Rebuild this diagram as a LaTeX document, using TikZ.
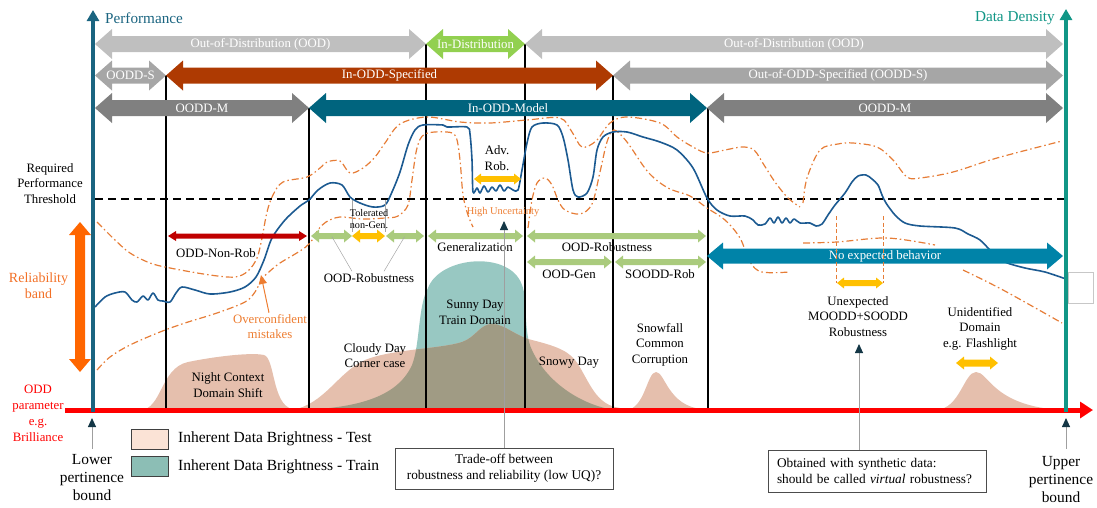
\documentclass[tikz,border=0pt]{standalone}
\usepackage{fontspec}
\setmainfont{Liberation Serif}
\usetikzlibrary{arrows.meta}

\definecolor{perfblue}{RGB}{26,100,128}
\definecolor{densteal}{RGB}{17,150,134}
\definecolor{oodgray}{RGB}{191,191,191}
\definecolor{oddsgray}{RGB}{166,166,166}
\definecolor{oddmgray}{RGB}{128,128,128}
\definecolor{rust}{RGB}{174,58,2}
\definecolor{modelteal}{RGB}{0,100,126}
\definecolor{indist}{RGB}{146,208,80}
\definecolor{noexp}{RGB}{0,131,168}
\definecolor{softgreen}{RGB}{170,203,125}
\definecolor{amber}{RGB}{255,192,0}
\definecolor{darkred}{RGB}{192,0,0}
\definecolor{relorange}{RGB}{255,102,0}
\definecolor{reltext}{RGB}{242,112,38}
\definecolor{txtorange}{RGB}{237,125,49}
\definecolor{curveblue}{RGB}{28,90,145}
\definecolor{bandorange}{RGB}{230,125,55}
\definecolor{axisred}{RGB}{255,0,0}
\definecolor{peach}{RGB}{229,191,173}
\definecolor{peachlight}{RGB}{251,227,214}
\definecolor{trainteal}{RGB}{152,200,194}
\definecolor{trainbox}{RGB}{140,190,181}
\definecolor{overlap}{RGB}{160,155,132}
\definecolor{pointer}{RGB}{20,55,70}

% double-headed band arrow: name, x1, x2, y, body half-height, head half-height, head length, fill, label
\newcommand\bandarrow[9]{%
  \fill[#8] (#2,#4) -- ({#2+#7},{#4-#6}) -- ({#2+#7},{#4-#5}) -- ({#3-#7},{#4-#5})
    -- ({#3-#7},{#4-#6}) -- (#3,#4) -- ({#3-#7},{#4+#6}) -- ({#3-#7},{#4+#5})
    -- ({#2+#7},{#4+#5}) -- ({#2+#7},{#4+#6}) -- cycle;
  \node[bandtext] (#1) at ({(#2+#3)/2},#4) {#9};}

\tikzset{
  bandtext/.style={inner sep=0pt, text=white, font=\fontsize{12.8}{15}\selectfont},
  lbl/.style={inner sep=0pt, align=center, font=\fontsize{12.8}{15.5}\selectfont},
  biglbl/.style={inner sep=0pt, align=center, font=\fontsize{15.4}{18}\selectfont},
  smalllbl/.style={inner sep=0pt, align=center, font=\fontsize{10.2}{12}\selectfont},
  divider/.style={line width=1.5pt, black},
  perfcurve/.style={line width=1.6pt, curveblue, line join=round},
  relbound/.style={line width=1.2pt, bandorange, dash pattern=on 7pt off 3pt on 1.5pt off 3pt},
  thinlink/.style={line width=0.5pt, gray!70},
  pointerline/.style={line width=0.9pt, gray!75, -{Triangle[length=9pt,width=8pt,color=pointer]}},
  legbox/.style={draw=black!75, line width=0.8pt, minimum width=37pt, minimum height=20pt, inner sep=0pt},
  legtext/.style={anchor=west, inner sep=0pt, font=\fontsize{15.5}{18}\selectfont},
  notebox/.style={draw=black!70, line width=0.8pt, minimum width=218pt, inner sep=0pt, font=\fontsize{13.3}{16}\selectfont}
}

\begin{document}
\begin{tikzpicture}[x=1pt,y=-1pt]
\useasboundingbox (0,0) rectangle (1097,507);

% ---------- data distributions ----------
\def\trainpath{(300,410) .. controls (360,408) and (398,396) .. (412,365)
  .. controls (420,345) and (418,305) .. (428,288)
  .. controls (440,256) and (510,250) .. (522,285)
  .. controls (528,300) and (523,332) .. (532,350)
  .. controls (548,385) and (585,406) .. (615,410) -- cycle}
\def\testpath{(292,410) .. controls (325,404) and (338,372) .. (365,360)
  .. controls (392,349) and (440,349) .. (462,342)
  .. controls (476,337) and (480,324) .. (492,324)
  .. controls (505,324) and (515,336) .. (532,340)
  .. controls (560,347) and (570,352) .. (578,364)
  .. controls (590,384) and (596,402) .. (615,407)
  .. controls (628,410) and (640,410) .. (652,410) -- cycle}
\fill[trainteal] \trainpath;
\fill[peach] \testpath;
\begin{scope}
  \clip \trainpath;
  \fill[overlap] \testpath;
\end{scope}
% night, snowfall and flashlight domains
\fill[peach] (140,410) .. controls (162,410) and (160,368) .. (188,362)
  .. controls (212,357) and (250,352) .. (264,355)
  .. controls (275,358) and (272,404) .. (292,409) -- cycle;
\fill[peach] (626,410) .. controls (645,409) and (647,372) .. (656,372)
  .. controls (665,372) and (668,406) .. (702,409) -- cycle;
\fill[peach] (936,410) .. controls (960,409) and (964,372) .. (976,372)
  .. controls (988,372) and (992,402) .. (1050,409) -- cycle;

% ---------- domain separators ----------
\draw[divider] (166,75) -- (166,410);
\draw[divider] (309,108) -- (309,410);
\draw[divider] (426,44) -- (426,410);
\draw[divider] (525,44) -- (525,410);
\draw[divider] (613,75) -- (613,410);
\draw[divider] (708,108) -- (708,412);

% ---------- threshold ----------
\draw[line width=1.8pt, dash pattern=on 8pt off 5pt] (95,199) -- (1064,199);

% ---------- reliability bounds ----------
\draw[relbound] plot[smooth, tension=0.55] coordinates {
  (97,222) (115,240) (130,253) (150,263) (170,268) (210,275) (235,277) (248,271)
  (257,258) (262,238) (267,212) (273,195) (283,182) (307,177) (320,168) (327,162)
  (340,161) (350,173) (363,168) (375,157) (385,143) (400,124) (427,117) (460,122)
  (490,123) (527,120) (560,118) (572,132) (582,147) (596,141) (610,123) (627,117)
  (660,123) (677,137) (693,147) (707,153) (725,150) (742,147) (754,150) (764,165)
  (775,182) (788,198) (800,207)};
\draw[relbound] plot[smooth, tension=0.55] coordinates {
  (803,203) (807,178) (820,150) (838,144) (853,143) (877,147) (893,160) (907,177)
  (920,178) (953,172) (997,158) (1062,141)};
\draw[relbound] plot[smooth, tension=0.55] coordinates {
  (97,370) (110,357) (130,345) (160,332) (185,323) (217,313) (245,302) (255,292)
  (262,279) (270,271) (280,263) (300,251) (310,243) (318,230) (326,222) (340,217)
  (362,219) (385,218) (398,216) (408,205) (412,180) (417,148) (425,134) (447,132)
  (456,137) (460,160) (463,195) (468,215) (473,227)};
\draw[relbound] plot[smooth, tension=0.55] coordinates {
  (528,228) (532,200) (537,183) (545,178) (552,185) (558,200) (565,210) (580,214)
  (592,204) (600,172) (607,142) (614,130) (627,142) (648,172) (668,188) (690,196)
  (707,208) (725,220) (740,238) (750,262) (762,272) (790,272)};
\draw[relbound] plot[smooth, tension=0.55] coordinates {
  (803,243) (837,242) (887,238) (935,245)};
\draw[relbound] plot[smooth, tension=0.55] coordinates {
  (963,270) (1003,290) (1062,323)};

% ---------- performance curve ----------
\draw[perfcurve] plot[smooth, tension=0.5] coordinates {
  (95,307) (105,297) (115,293) (125,292) (132,300) (137,302) (143,296) (148,300)
  (153,293) (158,300) (163,301) (170,302) (176,293) (182,287) (195,290) (210,294)
  (230,292) (245,287) (256,277) (264,260) (272,238) (285,220) (300,206) (309,200)
  (318,190) (330,183) (342,185) (350,197) (360,203) (373,207) (385,205) (392,192)
  (400,172) (408,145) (415,130) (423,125) (443,125) (447,127) (467,127) (470,134)
  (472,160) (473,192) (477,188) (480,193) (484,186) (488,192) (492,187) (496,191)
  (500,185) (504,191) (508,187) (513,190) (518,190) (522,170) (527,143) (532,127)
  (543,123) (557,125) (563,137) (568,160) (573,190) (578,197) (587,193) (593,177)
  (597,150) (603,137) (613,132) (627,132) (643,137) (660,142) (677,150) (693,168)
  (707,198) (717,210) (730,216) (745,216) (753,220) (758,225) (765,224) (770,218)
  (774,223) (778,217) (782,223) (786,218) (790,223) (794,219) (800,223) (810,223)
  (816,226) (822,224) (828,215) (835,205) (845,193) (852,182) (858,176) (866,175)
  (872,179) (878,185) (882,195) (886,203) (895,215) (905,223) (920,226) (955,228)
  (968,234) (980,240) (992,252) (1005,262) (1025,268) (1045,272) (1066,279)};

% ---------- region bands ----------
\bandarrow{oodL}{95}{426}{44}{8}{15}{17}{oodgray}{Out-of-Distribution (OOD)}
\bandarrow{indist}{426}{525}{44}{8}{15}{17}{indist}{In-Distribution}
\bandarrow{oodR}{525}{1063}{44}{8}{15}{17}{oodgray}{Out-of-Distribution (OOD)}
\bandarrow{oddsL}{95}{166}{75.5}{8}{15}{17}{oddsgray}{OODD-S}
\bandarrow{inodds}{166}{613}{75.5}{8}{15}{17}{rust}{In-ODD-Specified}
\bandarrow{oddsR}{613}{1063}{75.5}{8}{15}{17}{oddsgray}{Out-of-ODD-Specified (OODD-S)}
\bandarrow{oddmL}{95}{309}{108}{8}{15}{17}{oddmgray}{OODD-M}
\bandarrow{inoddm}{309}{707}{108}{8}{15}{17}{modelteal}{In-ODD-Model}
\bandarrow{oddmR}{707}{1063}{108}{8}{15}{17}{oddmgray}{OODD-M}
\bandarrow{noexp}{707}{1063}{256}{7.5}{13.5}{16}{noexp}{No expected behavior}

% ---------- small behaviour arrows ----------
\bandarrow{nonrob}{168}{307}{236}{2.5}{5}{8}{darkred}{}
\bandarrow{oodrobA}{311}{352}{236}{3}{6.5}{8}{softgreen}{}
\bandarrow{tolerated}{352}{385}{236}{3}{6.5}{8}{amber}{}
\bandarrow{oodrobB}{386}{424}{236}{3}{6.5}{8}{softgreen}{}
\bandarrow{generalization}{428}{523}{236}{3}{6.5}{8}{softgreen}{}
\bandarrow{oodrobC}{527}{706}{236}{3}{6.5}{8}{softgreen}{}
\bandarrow{oodgen}{527}{612}{262}{3}{6.5}{8}{softgreen}{}
\bandarrow{sooddrob}{615}{706}{262}{3}{6.5}{8}{softgreen}{}
\bandarrow{advrob}{474}{521}{179}{2.8}{5.5}{7}{amber}{}
\bandarrow{unexpected}{837}{883}{283}{3}{5.5}{7}{amber}{}
\bandarrow{flashlight}{956}{998}{363}{3.5}{6.5}{8}{amber}{}

% tolerated range markers
\draw[thinlink] (352,200) -- (352,232);
\draw[thinlink] (385,200) -- (385,232);
% unexpected robustness range
\draw[line width=1pt, bandorange, dash pattern=on 4pt off 2.5pt] (836.5,216) -- (836.5,283);
\draw[line width=1pt, bandorange, dash pattern=on 4pt off 2.5pt] (883.5,216) -- (883.5,283);

% ---------- axes ----------
\draw[line width=5pt, axisred, -{Triangle[length=13pt,width=16pt]}] (65,410) -- (1093,410);
\draw[line width=4pt, perfblue, -{Triangle[length=11pt,width=12pt]}] (93,412) -- (93,10);
\draw[line width=4pt, densteal, -{Triangle[length=11pt,width=12pt]}] (1066,412) -- (1066,9);
\node[draw=black!22, line width=0.8pt, fill=white, minimum width=25pt, minimum height=31pt, inner sep=0pt] (sidebox) at (1080.5,287.5) {};

% reliability band arrow
\fill[relorange] (80,222) -- (91,235) -- (85,235) -- (85,359) -- (91,359) -- (80,372)
  -- (69,359) -- (75,359) -- (75,235) -- (69,235) -- cycle;

% ---------- labels ----------
\node[anchor=west, inner sep=0pt, text=perfblue, font=\fontsize{15.2}{18}\selectfont] (perf) at (105,18) {Performance};
\node[anchor=east, inner sep=0pt, text=densteal, font=\fontsize{15.2}{18}\selectfont] (dens) at (1055,18) {Data Density};
\node[lbl] (threshold) at (50,183.5) {Required\\Performance\\Threshold};
\node[inner sep=0pt, align=center, text=reltext, font=\fontsize{14}{16}\selectfont] (relband) at (38.5,286) {Reliability\\band};
\node[inner sep=0pt, align=center, text=axisred, font=\fontsize{12.8}{16}\selectfont] (oddparam) at (38,413) {ODD\\parameter\\e.g.\\Brilliance};

\node[lbl] (advlbl) at (497,158) {Adv.\\Rob.};
\node[inner sep=0pt, text=txtorange, font=\fontsize{10.4}{12}\selectfont] (highunc) at (503,212) {High Uncertainty};
\node[smalllbl] (tollbl) at (369,219) {Tolerated\\non-Gen.};
\node[lbl] (nonroblbl) at (216,253) {ODD-Non-Rob};
\node[lbl] (oodroblblA) at (369,278) {OOD-Robustness};
\node[lbl] (genlbl) at (475,247) {Generalization};
\node[lbl] (oodroblblC) at (607,247) {OOD-Robustness};
\node[lbl] (oodgenlbl) at (569,274) {OOD-Gen};
\node[lbl] (sooddlbl) at (660,274) {SOODD-Rob};
\node[inner sep=0pt, align=center, text=txtorange, font=\fontsize{12.8}{15}\selectfont] (overconf) at (270,327) {Overconfident\\mistakes};

\node[lbl] (nightlbl) at (228,385) {Night Context\\Domain Shift};
\node[lbl] (cloudylbl) at (375,355.5) {Cloudy Day\\Corner case};
\node[lbl] (sunnylbl) at (475,312.5) {Sunny Day\\Train Domain};
\node[lbl] (snowylbl) at (569,363) {Snowy Day};
\node[lbl] (snowfalllbl) at (660,344.5) {Snowfall\\Common\\Corruption};
\node[lbl] (unexplbl) at (858,316.5) {Unexpected\\MOODD+SOODD\\Robustness};
\node[lbl] (unidlbl) at (980,328.5) {Unidentified\\Domain\\e.g. Flashlight};

\node[biglbl] (lowerlbl) at (92,478) {Lower\\pertinence\\bound};
\node[biglbl] (upperlbl) at (1061,480) {Upper\\pertinence\\bound};

% legend
\node[legbox, fill=peachlight] (legtest) at (149.5,439) {};
\node[legbox, fill=trainbox] (legtrain) at (149.5,466.5) {};
\node[legtext] (legtesttxt) at (178,439) {Inherent Data Brightness - Test};
\node[legtext] (legtraintxt) at (178,466.5) {Inherent Data Brightness - Train};

% note boxes
\node[notebox, minimum height=41pt, align=center] (tradeoff) at (504,468.5) {Trade-off between\\robustness and reliability (low UQ)?};
\node[notebox, minimum height=42pt, align=left, text width=200pt] (synthetic) at (877,471) {Obtained with synthetic data:\\should be called \textit{virtual} robustness?};

% ---------- pointers ----------
\draw[thinlink] (oodroblblA.north) ++(-17,-2) coordinate (orl) -- (oodrobA);
\draw[thinlink] (oodroblblA.north) ++(15,-2) coordinate (orr) -- (oodrobB);
\draw[line width=1pt, txtorange, -{Triangle[length=9pt,width=8pt]}] (overconf.north) ++(-1,-2) coordinate (oc) -- (261,275);
\draw[pointerline] (tradeoff.north) -- (504,221);
\draw[pointerline] (synthetic.north -| 859,0) -- (859,344);
\coordinate (lowbound) at (92,418);
\coordinate (upbound) at (1066,418);
\draw[pointerline] (lowerlbl.north) ++(0,-6) coordinate (lp) -- (lowbound);
\draw[pointerline] (upperlbl.north -| upbound) ++(0,-8) coordinate (up) -- (upbound);

\end{tikzpicture}
\end{document}
